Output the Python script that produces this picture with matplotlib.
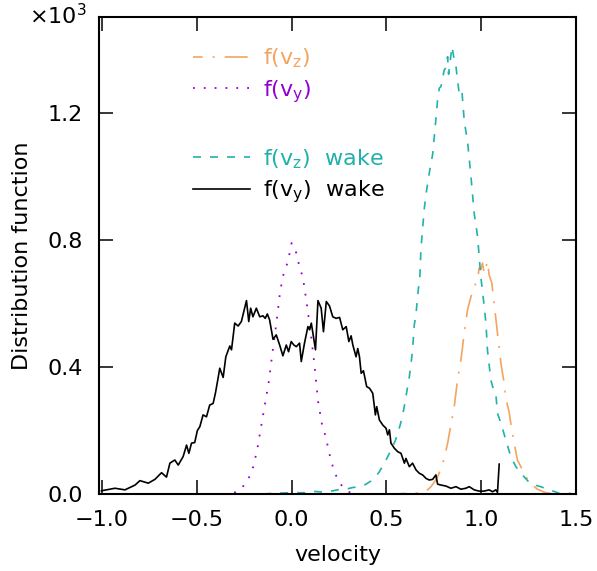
import numpy as np
import matplotlib
matplotlib.use("Agg")
import matplotlib.pyplot as plt
from matplotlib.ticker import FuncFormatter

# f(v_y) in the wake (black, solid)
v_wake_y = np.array([
    -1.003, -0.932, -0.879, -0.826, -0.800, -0.756, -0.721, -0.686, -0.660, -0.642,
    -0.616, -0.598, -0.572, -0.554, -0.542, -0.528, -0.511, -0.497, -0.484, -0.467,
    -0.449, -0.432, -0.414, -0.402, -0.388, -0.379, -0.361, -0.347, -0.326, -0.317,
    -0.300, -0.282, -0.265, -0.238, -0.226, -0.216, -0.204, -0.186, -0.168, -0.151,
    -0.139, -0.128, -0.116, -0.098, -0.081, -0.063, -0.046, -0.028, -0.016, -0.002,
    0.012, 0.025, 0.042, 0.051, 0.068, 0.086, 0.095, 0.104, 0.126, 0.139,
    0.156, 0.168, 0.183, 0.200, 0.217, 0.235, 0.253, 0.270, 0.288, 0.302,
    0.314, 0.323, 0.340, 0.349, 0.358, 0.367, 0.379, 0.396, 0.411, 0.428,
    0.442, 0.449, 0.463, 0.481, 0.498, 0.507, 0.516, 0.524, 0.542, 0.560,
    0.577, 0.595, 0.603, 0.621, 0.638, 0.656, 0.674, 0.691, 0.709, 0.726,
    0.744, 0.761, 0.770, 0.788, 0.814, 0.840, 0.867, 0.893, 0.919, 0.937,
    0.963, 0.989, 1.016, 1.042, 1.060, 1.077, 1.086, 1.095,
])
f_wake_y = np.array([
    10, 18, 13, 28, 42, 34, 46, 67, 53, 97,
    107, 91, 118, 154, 128, 160, 162, 200, 212, 249,
    243, 280, 285, 317, 364, 396, 367, 432, 466, 454,
    538, 529, 543, 609, 543, 585, 558, 585, 558, 561,
    553, 567, 548, 487, 501, 469, 435, 469, 448, 480,
    469, 464, 475, 417, 475, 527, 517, 538, 454, 609,
    585, 511, 606, 592, 558, 553, 556, 517, 527, 480,
    498, 469, 432, 458, 432, 380, 388, 338, 333, 317,
    249, 275, 233, 217, 207, 186, 202, 160, 144, 133,
    128, 97, 112, 86, 97, 76, 65, 60, 49, 44,
    46, 60, 31, 28, 25, 18, 23, 15, 18, 23,
    13, 9, 9, 13, 7, 13, 5, 94,
])

# f(v_y) (purple, dotted)
v_y = np.round(np.arange(-0.36, 0.345, 0.02), 2)
f_y = np.array([
    0, 0, 2, 5, 10, 18, 45, 55, 90, 145,
    215, 285, 355, 450, 540, 640, 700, 730, 790, 770,
    720, 680, 600, 510, 410, 290, 220, 180, 125, 80,
    50, 30, 15, 7, 2, 0,
])

# f(v_z) in the wake (teal, dashed)
v_wake_z = np.array([
    -0.15, -0.10, -0.05, 0.0, 0.077, 0.12, 0.165, 0.218, 0.25, 0.288,
    0.32, 0.358, 0.39, 0.419, 0.44, 0.463, 0.48, 0.498, 0.515, 0.533,
    0.547, 0.560, 0.573, 0.586, 0.595, 0.603, 0.612, 0.621, 0.630, 0.638,
    0.647, 0.656, 0.665, 0.677, 0.682, 0.700, 0.713, 0.726, 0.744, 0.758,
    0.770, 0.779, 0.788, 0.805, 0.811, 0.823, 0.828, 0.846, 0.858, 0.867,
    0.875, 0.884, 0.898, 0.911, 0.928, 0.946, 0.963, 0.981, 0.998, 1.016,
    1.025, 1.033, 1.051, 1.064, 1.077, 1.086, 1.104, 1.130, 1.156, 1.183,
    1.218, 1.261, 1.290, 1.314, 1.358, 1.385, 1.411, 1.45, 1.48,
])
f_wake_z = np.array([
    0, 2, 3, 4, 4, 8, 6, 10, 14, 15,
    20, 23, 30, 41, 52, 70, 88, 107, 127, 149,
    168, 191, 218, 249, 278, 306, 338, 369, 410, 454,
    532, 565, 625, 690, 770, 900, 960, 1010, 1070, 1160,
    1241, 1278, 1283, 1335, 1340, 1377, 1322, 1409, 1367, 1346,
    1304, 1262, 1272, 1172, 1110, 1000, 884, 810, 684, 590,
    538, 454, 359, 330, 317, 254, 223, 170, 118, 86,
    60, 31, 27, 23, 13, 8, 2, 4, 0,
])

# f(v_z) (orange, dash-dot)
v_z = np.array([
    0.55, 0.603, 0.65, 0.691, 0.715, 0.735, 0.761, 0.775, 0.788, 0.805,
    0.823, 0.840, 0.858, 0.875, 0.893, 0.902, 0.911, 0.928, 0.946, 0.963,
    0.981, 0.989, 0.998, 1.007, 1.016, 1.033, 1.042, 1.056, 1.068, 1.086,
    1.104, 1.121, 1.130, 1.147, 1.156, 1.174, 1.191, 1.209, 1.235, 1.261,
    1.296, 1.340, 1.38,
])
f_z = np.array([
    0, 2, 3, 4, 12, 23, 44, 60, 81, 112,
    160, 217, 275, 359, 422, 464, 511, 580, 621, 653,
    674, 711, 706, 727, 695, 732, 690, 664, 601, 506,
    412, 349, 301, 259, 223, 160, 107, 86, 55, 34,
    15, 4, 0,
])

c_orange = "#f4a460"
c_purple = "#9400d3"
c_teal = "#20b2aa"
c_black = "black"

fig = plt.figure(figsize=(5.97, 5.71), dpi=100)
ax = fig.add_axes([0.1658, 0.1349, 0.7990, 0.8353])

l_z, = ax.plot(v_z, f_z, color=c_orange, lw=1.2, ls=(8, (13.8, 6, 1.2, 6)))
l_y, = ax.plot(v_y, f_y, color=c_purple, lw=1.3, ls=(0, (1, 5)))
l_wz, = ax.plot(v_wake_z, f_wake_z, color=c_teal, lw=1.2, ls=(0, (4.8, 5.4)))
l_wy, = ax.plot(v_wake_y, f_wake_y, color=c_black, lw=1.2)

ax.set_xlim(-1.016, 1.495)
ax.set_ylim(0, 1502)
ax.set_xticks([-1.0, -0.5, 0.0, 0.5, 1.0, 1.5])
ax.set_yticks([0, 400, 800, 1200])
ax.yaxis.set_major_formatter(FuncFormatter(lambda v, p: f"{v / 1000:.1f}"))
ax.xaxis.set_major_formatter(FuncFormatter(lambda v, p: f"{v:.1f}".replace("-", "\u2212")))

ax.tick_params(direction="in", top=True, right=True, length=10, width=1.1,
               labelsize=16, pad=11.5)
for s in ax.spines.values():
    s.set_linewidth(1.5)

ax.set_xlabel("velocity", fontsize=16)
ax.set_ylabel("Distribution function", fontsize=16)
ax.xaxis.set_label_coords(0.5, -0.107)
ax.yaxis.set_label_coords(-0.14, 0.5)

fig.text(0.0486, 0.958, r"$\times$10$^\mathregular{3}$", fontsize=16, va="baseline")

leg_kw = dict(loc="upper left", frameon=False, fontsize=16, borderpad=0,
              borderaxespad=0, handlelength=2.55, handletextpad=0.6,
              labelspacing=0.35)
leg1 = ax.legend([l_z, l_y], [r"f(v$_\mathregular{z}$)", r"f(v$_\mathregular{y}$)"],
                 bbox_to_anchor=(0.197, 0.938), **leg_kw)
for t, c in zip(leg1.get_texts(), [c_orange, c_purple]):
    t.set_color(c)
ax.add_artist(leg1)
leg2 = ax.legend([l_wz, l_wy],
                 [r"f(v$_\mathregular{z}$)  wake", r"f(v$_\mathregular{y}$)  wake"],
                 bbox_to_anchor=(0.197, 0.727), **leg_kw)
for t, c in zip(leg2.get_texts(), [c_teal, c_black]):
    t.set_color(c)

fig.savefig("out.png", dpi=100)
